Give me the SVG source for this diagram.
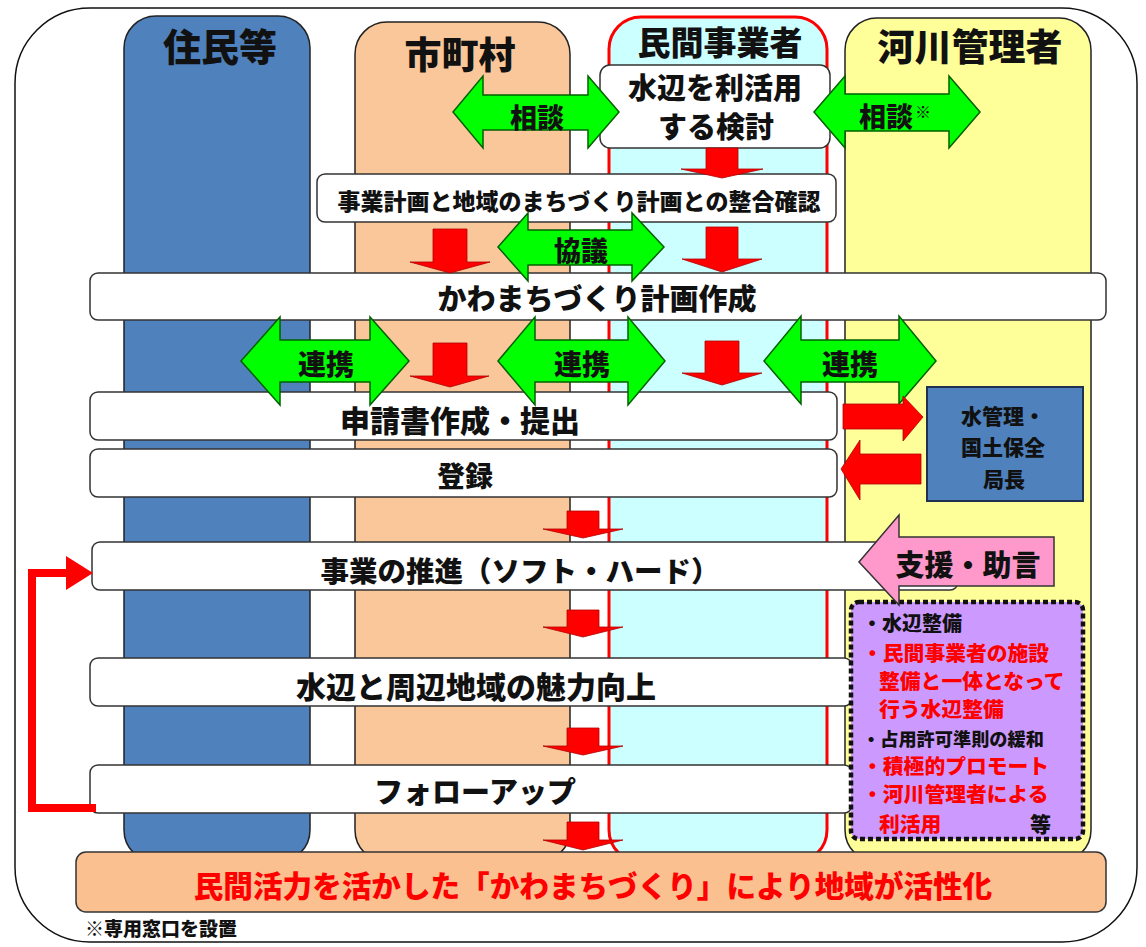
<svg xmlns="http://www.w3.org/2000/svg" width="1146" height="947" viewBox="0 0 1146 947">
<style>
text{font-family:"Noto Sans CJK JP","Noto Sans CJK SC",sans-serif;font-weight:900;fill:#111}
.lane{stroke:#222;stroke-width:1.5}
.box{fill:#fff;stroke:#333;stroke-width:1.5}
.mid{text-anchor:middle}
.green{fill:#00ff00;stroke:#006000;stroke-width:1.5}
.red{fill:#ff0000;stroke:#b00000;stroke-width:0.8}
.rtxt{fill:#ff0000}
</style>
<rect x="15" y="8" width="1122" height="934" rx="75" fill="#fff" stroke="#111" stroke-width="1.5"/>
<g id="lane-jumin"><rect class="lane" x="124" y="16" width="186" height="846" rx="32" fill="#4f81bd"/><text class="mid" x="220" y="61" font-size="38">住民等</text></g>
<g id="lane-shichoson"><rect class="lane" x="355" y="22" width="215" height="840" rx="32" fill="#f9c79a"/><text class="mid" x="460" y="69" font-size="37">市町村</text></g>
<g id="lane-minkan"><rect x="609" y="17" width="218" height="845" rx="32" fill="#ccffff" stroke="#ff0000" stroke-width="3"/><text class="mid" x="720" y="55" font-size="33">民間事業者</text></g>
<g id="lane-kasen"><rect class="lane" x="845" y="18" width="246" height="844" rx="32" fill="#ffff99"/><text class="mid" x="970" y="61" font-size="37">河川管理者</text></g>

<g id="node-kento"><rect class="box" x="600" y="65" width="230" height="83" rx="10"/><text class="mid" x="715" y="99" font-size="29">水辺を利活用</text><text class="mid" x="716" y="138" font-size="29">する検討</text></g>
<g id="node-seigo"><rect class="box" x="317" y="174" width="519" height="48" rx="8"/><text class="mid" x="579" y="210" font-size="23">事業計画と地域のまちづくり計画との整合確認</text></g>
<g id="node-keikaku"><rect class="box" x="90" y="273" width="1016" height="47" rx="8"/><text class="mid" x="597" y="310" font-size="29">かわまちづくり計画作成</text></g>
<g id="node-shinsei"><rect class="box" x="90" y="392" width="747" height="48" rx="8"/><text class="mid" x="460" y="432" font-size="30">申請書作成・提出</text></g>
<g id="node-toroku"><rect class="box" x="90" y="449" width="747" height="48" rx="8"/><text class="mid" x="465" y="487" font-size="28">登録</text></g>
<g id="node-suishin"><rect class="box" x="92" y="542" width="866" height="48" rx="8"/><text class="mid" x="520" y="582" font-size="28.5">事業の推進（ソフト・ハード）</text></g>
<g id="node-miryoku"><rect class="box" x="90" y="658" width="762" height="48" rx="8"/><text class="mid" x="476" y="698" font-size="30">水辺と周辺地域の魅力向上</text></g>
<g id="node-follow"><rect class="box" x="90" y="765" width="762" height="48" rx="8"/><text class="mid" x="475" y="803" font-size="29">フォローアップ</text></g>
<g id="node-kasseika"><rect x="76" y="852" width="1030" height="60" rx="10" fill="#fac090" stroke="#333" stroke-width="1.5"/><text class="mid rtxt" x="593" y="897" font-size="29.6">民間活力を活かした「かわまちづくり」により地域が活性化</text></g>

<g id="node-kyokucho"><rect x="927" y="387" width="156" height="114" fill="#4f81bd" stroke="#1f3050" stroke-width="2"/><text class="mid" x="1003" y="424" font-size="21">水管理・</text><text class="mid" x="1003" y="455" font-size="21">国土保全</text><text class="mid" x="1004" y="487" font-size="21">局長</text></g>
<g id="node-shien-list"><rect x="851" y="602" width="232" height="237" rx="8" fill="#cc99ff" stroke="#111" stroke-width="4.5" stroke-dasharray="5 3"/>
<text x="862" y="631" font-size="20">・水辺整備</text>
<text class="rtxt" x="862" y="661" font-size="20.8">・民間事業者の施設</text>
<text class="rtxt" x="879" y="689" font-size="20.8">整備と一体となって</text>
<text class="rtxt" x="879" y="717" font-size="20.8">行う水辺整備</text>
<text x="862" y="746" font-size="18.2">・占用許可準則の緩和</text>
<text class="rtxt" x="862" y="774" font-size="20.8">・積極的プロモート</text>
<text class="rtxt" x="862" y="802" font-size="20.8">・河川管理者による</text>
<text class="rtxt" x="879" y="832" font-size="20.8">利活用</text>
<text x="1030" y="832" font-size="21">等</text></g>

<g id="connectors">
<path class="green" d="M453,112 L483,76 L483,95 L588,95 L588,76 L619,112 L588,148 L588,130 L483,130 L483,148 Z"/>
<text class="mid" x="537" y="128" font-size="27">相談</text>
<path class="green" d="M814,112 L845,76 L845,94 L949,94 L949,76 L980,112 L949,148 L949,131 L845,131 L845,148 Z"/>
<text class="mid" x="886" y="127" font-size="27">相談</text><text x="915" y="118" font-size="16">※</text>
<path class="green" d="M498,247 L528,213 L528,230 L632,230 L632,213 L664,247 L632,281 L632,265 L528,265 L528,281 Z"/>
<text class="mid" x="581" y="261" font-size="27">協議</text>
<path class="green" d="M241,361 L280,317 L280,340 L370,340 L370,317 L409,361 L370,405 L370,382 L280,382 L280,405 Z"/>
<text class="mid" x="326" y="375" font-size="28">連携</text>
<path class="green" d="M498,361 L535,317 L535,340 L628,340 L628,317 L665,361 L628,405 L628,382 L535,382 L535,405 Z"/>
<text class="mid" x="582" y="375" font-size="28">連携</text>
<path class="green" d="M764,361 L801,316 L801,340 L899,340 L899,316 L936,361 L899,404 L899,382 L801,382 L801,404 Z"/>
<text class="mid" x="850" y="375" font-size="28">連携</text>

<path class="red" d="M706,148 L738,148 L738,169 L763,169 L722,178 L681,169 L706,169 Z"/>
<path class="red" d="M433,229 L467,229 L467,262 L490,262 L450,273 L410,262 L433,262 Z"/>
<path class="red" d="M706,227 L738,227 L738,259 L762,259 L722,272 L682,259 L706,259 Z"/>
<path class="red" d="M433,343 L467,343 L467,376 L489,376 L450,387 L410,376 L433,376 Z"/>
<path class="red" d="M705,341 L739,341 L739,373 L762,373 L722,385 L682,373 L705,373 Z"/>
<path class="red" d="M567,511 L599,511 L599,529 L623,529 L583,538 L543,529 L567,529 Z"/>
<path class="red" d="M567,610 L599,610 L599,627 L623,627 L583,637 L543,627 L567,627 Z"/>
<path class="red" d="M567,728 L599,728 L599,746 L623,746 L583,755 L543,746 L567,746 Z"/>
<path class="red" d="M567,822 L599,822 L599,840 L623,840 L583,850 L543,840 L567,840 Z"/>

<path class="red" d="M843,404 L903,404 L903,396 L923,417 L903,441 L903,429 L843,429 Z"/>
<path class="red" d="M921,454 L860,454 L860,440 L841,469 L860,500 L860,484 L921,484 Z"/>

<path d="M859,562 L899,515 L899,537 L1054,537 L1054,586 L899,586 L899,605 Z" fill="#ff99cc" stroke="#333" stroke-width="1.5"/>
<text class="mid" x="968" y="576" font-size="29">支援・助言</text>

<polyline points="96,808 32,808 32,573 70,573" fill="none" stroke="#ff0000" stroke-width="8"/>
<path d="M66,556 L93,573 L66,590 Z" fill="#ff0000"/>
</g>
<text x="85" y="936" font-size="19">※専用窓口を設置</text>
</svg>
